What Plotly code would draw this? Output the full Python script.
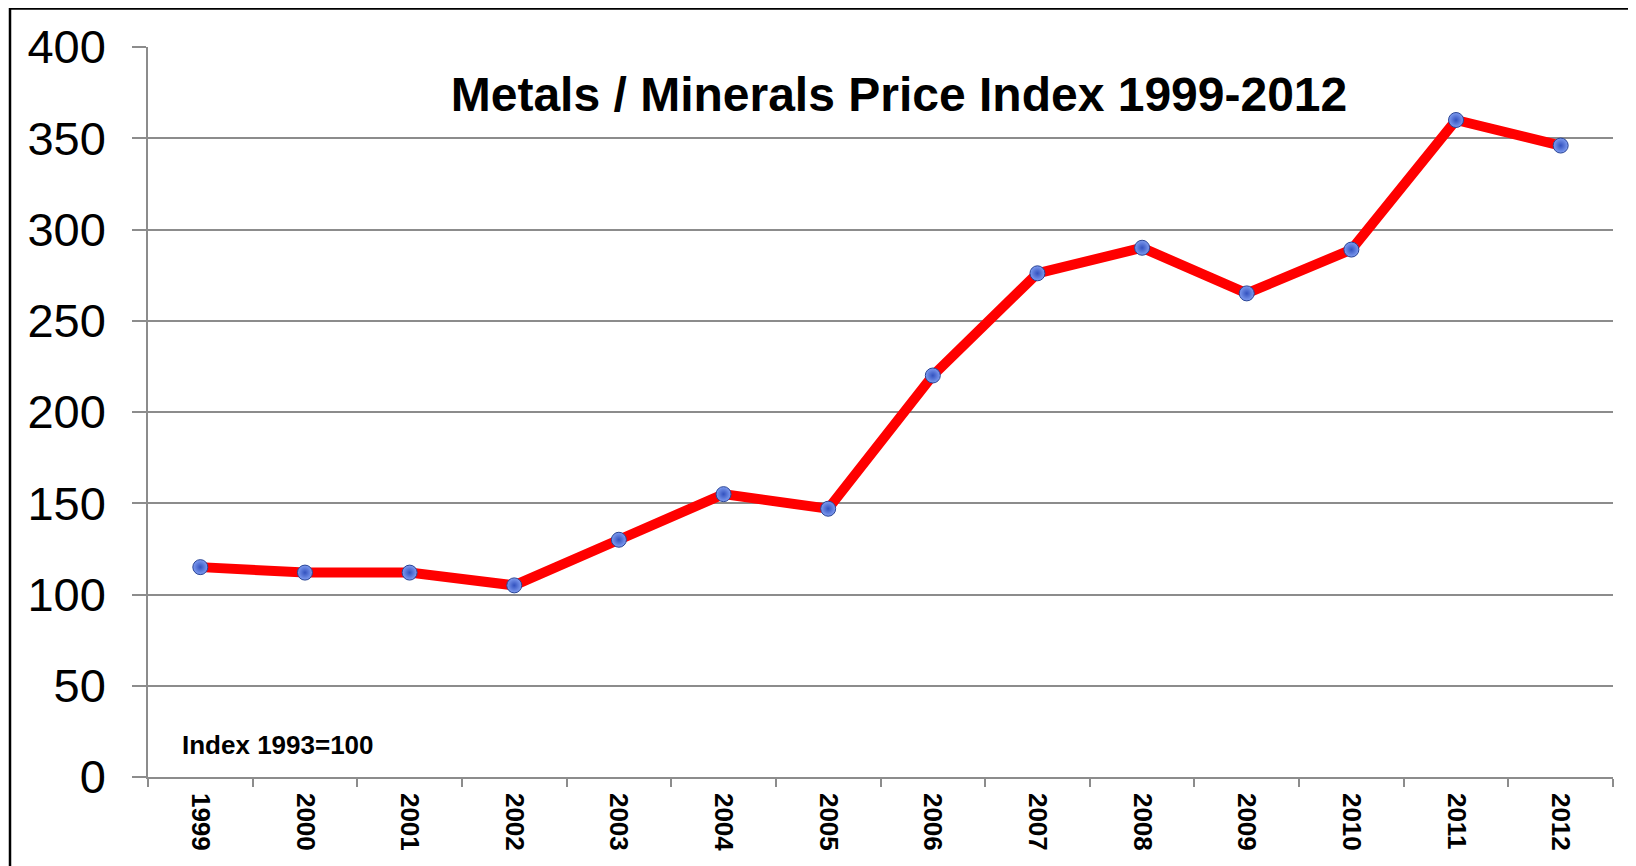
import plotly.graph_objects as go

years = ["1999", "2000", "2001", "2002", "2003", "2004", "2005",
         "2006", "2007", "2008", "2009", "2010", "2011", "2012"]
index_values = [115, 112, 112, 105, 130, 155, 147, 220, 276, 290, 265, 289, 360, 346]
y_ticks = [0, 50, 100, 150, 200, 250, 300, 350, 400]

W, H = 1636, 866
L, R, T, B = 140, 1605, 39, 769

def px_x(px):
    return (px - L) / (R - L)

def px_y(py):
    return (B - py) / (B - T)

fig = go.Figure()
fig.add_trace(go.Scatter(
    x=years, y=index_values, mode="lines+markers",
    line=dict(color="#ff0000", width=10),
    marker=dict(size=15, color="#7f9cf0",
                gradient=dict(type="radial", color="#3352bf"),
                line=dict(color="#2a4596", width=1)),
    showlegend=False, hoverinfo="x+y",
))

grid = "#8c8c8c"
fig.update_layout(
    width=W, height=H,
    margin=dict(l=L, r=W - R, t=T, b=H - B),
    paper_bgcolor="white", plot_bgcolor="white",
    font=dict(family="Liberation Sans, Arial, sans-serif", color="black"),
    title=dict(text="<b>Metals / Minerals Price Index 1999-2012</b>",
               font=dict(size=48, color="black"),
               x=891 / W, xanchor="center", xref="container",
               y=1 - 86 / H, yanchor="middle", yref="container"),
    xaxis=dict(type="category", tickson="boundaries", ticks="outside",
               range=[-0.5, len(years) - 0.5], automargin=False,
               ticklen=8, tickwidth=1.5, tickcolor=grid,
               showline=True, linecolor=grid, linewidth=1.5,
               showgrid=False, tickangle=90,
               tickfont=dict(size=26, color="black", weight="bold"),
               ticklabelstandoff=9),
    yaxis=dict(range=[0, 400], tickvals=y_ticks, ticks="outside",
               automargin=False,
               ticklen=14, tickwidth=1.5, tickcolor=grid,
               showline=True, linecolor=grid, linewidth=1.5,
               showgrid=True, gridcolor=grid, gridwidth=1.5,
               zeroline=False,
               tickfont=dict(size=47, color="black"),
               ticklabelstandoff=17),
    annotations=[dict(text="<b>Index 1993=100</b>", xref="paper", yref="y",
                      x=px_x(172), y=17.5, xanchor="left", yanchor="middle",
                      showarrow=False, font=dict(size=26, color="black"))],
    shapes=[
        dict(type="line", xref="paper", yref="paper",
             x0=px_x(2), x1=px_x(2), y0=px_y(0), y1=px_y(870),
             line=dict(color="black", width=2.5)),
        dict(type="line", xref="paper", yref="paper",
             x0=px_x(2), x1=px_x(1640), y0=px_y(0.5), y1=px_y(0.5),
             line=dict(color="black", width=2.5)),
    ],
)

fig.write_html("out.html")
